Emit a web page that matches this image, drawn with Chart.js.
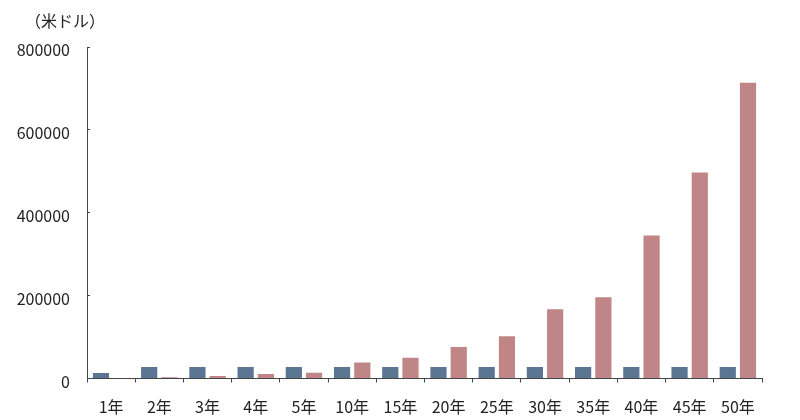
<!DOCTYPE html>
<html>
<head>
    <meta charset="utf-8" />
    <style>
        html, body { margin: 0; padding: 0; background: #ffffff; }
        #wrap { width: 800px; height: 420px; }
    </style>
</head>
<body>
    <div id="wrap">
        <canvas id="chart" width="800" height="420"></canvas>
    </div>

    <script src="https://cdn.jsdelivr.net/npm/chart.js"></script>
    <script type="text/javascript">
        // categorias (años)
        var years = ['1年', '2年', '3年', '4年', '5年', '10年', '15年', '20年', '25年', '30年', '35年', '40年', '45年', '50年'];
        // serie azul
        var seriesBlue = [13500, 28000, 28000, 28000, 28000, 28000, 28000, 28000, 28000, 28000, 28000, 28000, 28000, 28000];
        // serie rosa
        var seriesRose = [0, 3000, 6000, 11000, 14000, 38500, 50000, 76000, 102000, 167000, 196000, 345000, 497000, 714000];
        // etiquetas del eje y
        var yTicks = [0, 200000, 400000, 600000, 800000];
        var unitLabel = '（米ドル）';

        var fontFamily = '"Noto Sans CJK JP", "Noto Sans", sans-serif';
        var axisColor = '#444444';

        // dibuja la unidad arriba del eje y
        var unitPlugin = {
            id: 'unitLabel',
            afterDraw: function (chart) {
                var c = chart.ctx;
                c.save();
                c.fillStyle = '#222222';
                c.font = '16px ' + fontFamily;
                c.textAlign = 'left';
                c.textBaseline = 'middle';
                c.fillText(unitLabel, 25, 21);
                c.restore();
            }
        };

        var ctx = document.getElementById('chart').getContext('2d');
        var chartInstance = new Chart(ctx, {
            type: 'bar',
            data: {
                labels: years,
                datasets: [{
                    data: seriesBlue,
                    backgroundColor: '#5a7692',
                    borderWidth: 0
                }, {
                    data: seriesRose,
                    backgroundColor: '#bf8587',
                    borderWidth: 0
                }]
            },
            plugins: [unitPlugin],
            options: {
                responsive: false,
                animation: false,
                datasets: {
                    bar: { categoryPercentage: 0.84, barPercentage: 0.8 }
                },
                layout: {
                    padding: { left: 10, right: 38, top: 47, bottom: 0 }
                },
                plugins: {
                    legend: { display: false },
                    tooltip: { enabled: false },
                    title: { display: false }
                },
                scales: {
                    x: {
                        afterFit: function (scale) {
                            scale.height = 41.5;
                        },
                        grid: {
                            offset: true,
                            drawOnChartArea: false,
                            drawTicks: true,
                            tickLength: 4,
                            color: axisColor
                        },
                        border: { color: axisColor, width: 1 },
                        ticks: {
                            color: '#222222',
                            font: { family: fontFamily, size: 16 },
                            padding: 15,
                            maxRotation: 0,
                            autoSkip: false
                        }
                    },
                    y: {
                        min: 0,
                        max: 800000,
                        afterBuildTicks: function (scale) {
                            scale.ticks = yTicks.map(function (v) { return { value: v }; });
                        },
                        afterFit: function (scale) {
                            scale.width = 77;
                        },
                        grid: {
                            drawOnChartArea: false,
                            drawTicks: true,
                            tickLength: -3,
                            color: axisColor
                        },
                        border: { color: axisColor, width: 1 },
                        ticks: {
                            color: '#222222',
                            font: { family: fontFamily, size: 16 },
                            padding: 20,
                            labelOffset: 3,
                            callback: function (v) { return String(v); }
                        }
                    }
                }
            }
        });
    </script>
</body>
</html>
